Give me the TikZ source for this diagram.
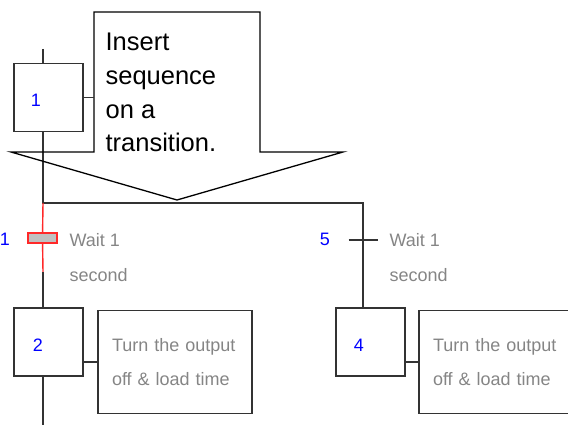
\documentclass[tikz,border=0pt]{standalone}
\usepackage{fontspec}
\setmainfont{Liberation Sans}
\usetikzlibrary{positioning}
\definecolor{stepblue}{HTML}{0000FF}
\definecolor{textgray}{HTML}{858585}
\definecolor{wirered}{HTML}{FF2828}
\definecolor{wiredark}{HTML}{333333}
\definecolor{transfill}{HTML}{C0C0C0}

\begin{document}
\begin{tikzpicture}[x=1pt, y=-1pt, line width=1.2pt,
    stepbox/.style={draw=wiredark, minimum width=69pt, minimum height=68pt, inner sep=0pt},
    stepnum/.style={text=stepblue, font=\fontsize{18}{18}\selectfont, inner sep=0pt},
    actionbox/.style={draw=wiredark, minimum height=103pt, text width=126pt, inner xsep=14pt,
      align=left, text=textgray, font=\fontsize{18}{34}\selectfont},
    condtext/.style={anchor=base west, inner sep=0pt, align=left, text=textgray,
      font=\fontsize{18}{35}\selectfont},
    transbar/.style={draw=wirered, fill=transfill, minimum width=29pt, minimum height=10pt, inner sep=0pt}]
  \clip (0,0) rectangle (568,425);
  % steps and actions
  \node[stepbox] (s1) at (48.5,97.5) {};
  \node[stepnum] (n1) at (36,100.5) {1};
  \node[stepbox] (s2) at (48.5,342) {};
  \node[stepnum] (n2) at (38,345) {2};
  \node[stepbox] (s4) at (370.5,342) {};
  \node[stepnum] (n4) at (359,345) {4};
  \node[actionbox] (a2) at (175,362) {Turn the output\\off \& load time};
  \node[actionbox] (a4) at (496,362) {Turn the output\\off \& load time};
  % transitions
  \coordinate (top) at (43,49);
  \coordinate (split) at (43,203);
  \coordinate (branch) at (363,203);
  \coordinate (redend) at (43,272);
  \node[transbar] (t1) at (42.5,238) {};
  \coordinate (t5) at (363,240);
  \node[stepnum] (tn1) at (5,239) {1};
  \node[stepnum] (tn5) at (325,239) {5};
  \node[condtext] (c1) at (69,281.5) {Wait 1\\second};
  \node[condtext] (c5) at (389,281.5) {Wait 1\\second};
  % links
  \draw[wiredark] (top) -- (top |- s1.north);
  \draw[wiredark] (s1.south -| top) -- (split) -- (branch) -- (branch |- s4.north);
  \draw[wirered, line width=1.4pt] (split) -- (t1) -- (redend);
  \draw[wiredark] (redend) -- (s2.north -| top);
  \draw[wiredark] (s2.south -| top) -- (top |- 0,425);
  \draw[wiredark] ([xshift=-14.5pt]t5) -- ([xshift=14.5pt]t5);
  \draw[wiredark] (s2.east |- a2.west) -- (a2.west);
  \draw[wiredark] (s4.east |- a4.west) -- (a4.west);
  \node[transbar] at (t1) {};
  % callout
  \draw[black, line width=1.3pt] (94,152) -- (94,12) -- (260,12) -- (260,152) -- (343,152)
    -- (177,200) -- (11,152) -- cycle;
  \draw[wiredark] (s1.east) -- (94,99 |- s1.east);
  \node[anchor=base west, inner sep=0pt, align=left, font=\fontsize{25.5}{33.7}\selectfont]
    (note) at (105,152) {Insert\\sequence\\on a\\transition.};
\end{tikzpicture}
\end{document}
